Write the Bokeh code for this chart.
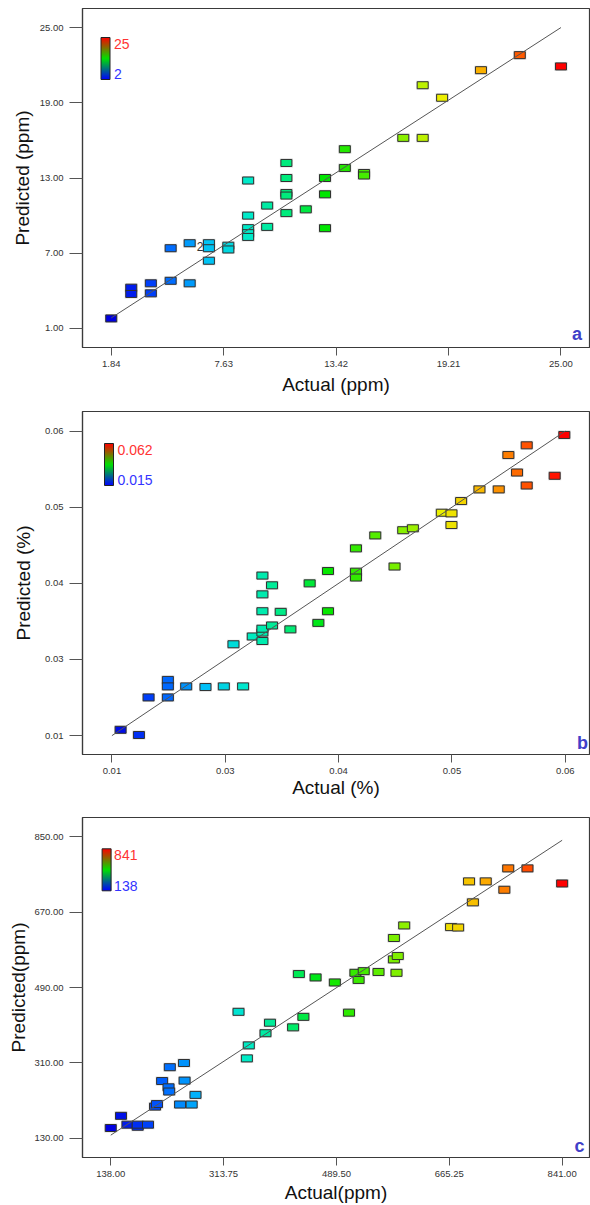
import numpy as np
from bokeh.plotting import figure
from bokeh.layouts import column
from bokeh.models import (LinearColorMapper, ColorBar, FixedTicker, Label,
                          ColumnDataSource, Range1d)
from bokeh.core.properties import value
from bokeh.embed import file_html
from bokeh.resources import INLINE

# ---------------- data: panel a (ppm) ----------------
a_actual = [1.84, 2.87, 2.87, 3.88, 3.88, 4.90, 4.90, 5.88, 5.88, 6.87, 6.87, 6.87,
            7.87, 7.87, 8.89, 8.89, 8.89, 8.89, 8.89, 9.87, 9.87,
            10.86, 10.86, 10.86, 10.86, 10.86, 11.86, 12.85, 12.85, 12.85,
            13.87, 13.87, 14.86, 14.86, 16.88, 17.88, 17.88, 18.88, 20.88, 22.88, 25.00]
a_pred = [1.8, 4.25, 3.75, 4.6, 3.8, 4.8, 7.4, 7.8, 4.6, 7.8, 7.4, 6.4,
          7.6, 7.3, 12.8, 10.0, 9.0, 8.6, 8.3, 10.8, 9.1,
          14.2, 13.0, 11.8, 11.6, 10.2, 10.5, 13.0, 11.7, 9.0,
          15.3, 13.8, 13.4, 13.2, 16.2, 16.2, 20.4, 19.4, 21.6, 22.8, 21.9]
a_ticks = [1.84, 7.63, 13.42, 19.21, 25.00]
a_tick_labels = ["1.84", "7.63", "13.42", "19.21", "25.00"]
a_yticks = [1.0, 7.0, 13.0, 19.0, 25.0]
a_ytick_labels = ["1.00", "7.00", "13.00", "19.00", "25.00"]
a_color_range = [2, 25]
a_color_labels = ["2", "25"]
a_note_x = [6.42]
a_note_y = [7.55]
a_note_text = ["2"]

# ---------------- data: panel b (%) ----------------
b_actual = [0.0159, 0.0178, 0.0188, 0.0208, 0.0208, 0.0208, 0.0227, 0.0247, 0.0266, 0.0286,
            0.0276, 0.0296, 0.0306, 0.0306, 0.0306, 0.0306, 0.0306, 0.0306,
            0.0316, 0.0316, 0.0325, 0.0335, 0.0355, 0.0364, 0.0374, 0.0374,
            0.0403, 0.0403, 0.0403, 0.0423, 0.0443, 0.0452, 0.0462, 0.0492,
            0.0502, 0.0502, 0.0512, 0.0531, 0.0551, 0.0561, 0.0570, 0.0580, 0.0580,
            0.0609, 0.0619]
b_pred = [0.0159, 0.0151, 0.0209, 0.0236, 0.0226, 0.0209, 0.0226, 0.0225, 0.0226, 0.0226,
          0.0291, 0.0303, 0.0296, 0.0309, 0.0315, 0.0342, 0.0368, 0.0397,
          0.0320, 0.0382, 0.0341, 0.0314, 0.0385, 0.0324, 0.0404, 0.0342,
          0.0439, 0.0403, 0.0394, 0.0459, 0.0411, 0.0467, 0.0470, 0.0494,
          0.0493, 0.0475, 0.0512, 0.0530, 0.0530, 0.0583, 0.0556, 0.0598, 0.0536,
          0.0551, 0.0614]
b_ticks = [0.015, 0.02675, 0.0385, 0.05025, 0.062]
b_tick_labels = ["0.01", "0.03", "0.04", "0.05", "0.06"]
b_color_range = [0.015, 0.062]
b_color_labels = ["0.015", "0.062"]

# ---------------- data: panel c (ppm) ----------------
c_actual = [138, 154, 164, 180, 180, 196, 207, 210, 218, 228, 229, 230, 246, 252, 253, 264, 270,
            337, 350, 353, 379, 386, 422, 431, 438, 457, 487, 509, 519, 524, 532, 555, 583,
            579, 585, 579, 595, 668, 679, 702, 696, 722, 751, 757, 787, 841]
c_pred = [155, 184, 163, 158, 163, 163, 206, 212, 267, 252, 242, 300, 211, 310, 268, 211, 234,
          432, 321, 352, 381, 406, 395, 522, 420, 514, 502, 430, 525, 508, 529, 527, 525,
          557, 565, 608, 638, 634, 633, 693, 743, 743, 723, 774, 774, 738]
c_ticks = [138.0, 313.75, 489.5, 665.25, 841.0]
c_tick_labels = ["138.00", "313.75", "489.50", "665.25", "841.00"]
c_yticks = [130.0, 310.0, 490.0, 670.0, 850.0]
c_ytick_labels = ["130.00", "310.00", "490.00", "670.00", "850.00"]
c_color_range = [138, 841]
c_color_labels = ["138", "841"]

# ---------------- styling helpers ----------------
POINT_STOPS = [(0.0, (0, 0, 225)), (0.1, (0, 80, 255)), (0.2, (0, 190, 250)),
               (0.3, (0, 235, 200)), (0.4, (0, 235, 110)), (0.47, (0, 230, 0)),
               (0.55, (60, 235, 0)), (0.65, (140, 240, 0)), (0.73, (235, 240, 0)),
               (0.82, (250, 180, 0)), (0.91, (255, 90, 0)), (1.0, (255, 0, 0))]
BAR_STOPS = [(0.0, (0, 0, 255)), (0.5, (0, 225, 0)), (1.0, (255, 0, 0))]


def make_palette(stops, n=256):
    ts = np.array([s[0] for s in stops])
    cols = np.array([s[1] for s in stops], dtype=float)
    out = []
    for t in np.linspace(0, 1, n):
        r = np.interp(t, ts, cols[:, 0])
        g = np.interp(t, ts, cols[:, 1])
        b = np.interp(t, ts, cols[:, 2])
        out.append("#%02x%02x%02x" % (int(round(r)), int(round(g)), int(round(b))))
    return out


POINT_PAL = make_palette(POINT_STOPS)
BAR_PAL = make_palette(BAR_STOPS)
FONT = "Liberation Sans"


def panel(actual, pred, xticks, xlabels, yticks, ylabels, xr, yr, crange, clabels,
          xlab, ylab, letter, height, top, bottom, left, xstand, ystand,
          cb_pos, lab_pos, letter_pos, note=None):
    p = figure(width=590, height=height, output_backend="svg", toolbar_location=None,
               x_range=Range1d(*xr), y_range=Range1d(*yr),
               min_border_left=left, min_border_right=1, min_border_top=top,
               min_border_bottom=bottom)
    p.xgrid.visible = False
    p.ygrid.visible = False
    p.outline_line_color = "#3a3a3a"
    p.outline_line_width = 1.2
    p.background_fill_color = "white"
    p.border_fill_color = "white"

    p.xaxis.ticker = FixedTicker(ticks=xticks)
    p.xaxis.major_label_overrides = {t: l for t, l in zip(xticks, xlabels)}
    p.yaxis.ticker = FixedTicker(ticks=yticks)
    p.yaxis.major_label_overrides = {t: l for t, l in zip(yticks, ylabels)}
    for ax in (p.xaxis[0], p.yaxis[0]):
        ax.axis_line_color = "#3a3a3a"
        ax.axis_line_width = 1.2
        ax.major_tick_line_color = "#555555"
        ax.major_tick_in = 0
        ax.minor_tick_line_color = None
        ax.major_label_text_font = FONT
        ax.major_label_text_font_size = "9.5px"
        ax.major_label_text_color = "#333333"
        ax.axis_label_text_font = FONT
        ax.axis_label_text_font_size = "19px"
        ax.axis_label_text_font_style = "normal"
        ax.axis_label_text_color = "#111111"
    p.xaxis.major_tick_out = 8
    p.yaxis.major_tick_out = 13
    p.xaxis.major_label_standoff = 5
    p.yaxis.major_label_standoff = 6
    p.xaxis.axis_label = xlab
    p.yaxis.axis_label = ylab
    p.xaxis.axis_label_standoff = xstand
    p.yaxis.axis_label_standoff = ystand

    mapper = LinearColorMapper(palette=POINT_PAL, low=crange[0], high=crange[1])
    src = ColumnDataSource(dict(x=actual, y=pred))
    p.rect(x="x", y="y", width=13, height=9, width_units="screen", height_units="screen",
           source=src, fill_color="#bdbdbd", fill_alpha=0.55, line_color=None)
    p.rect(x="x", y="y", width=11, height=7, width_units="screen", height_units="screen",
           source=src, fill_color={"field": "x", "transform": mapper},
           line_color="#303030", line_width=1)
    p.line(x=[xticks[0], xticks[-1]], y=[xticks[0], xticks[-1]],
           line_color="#555555", line_width=1)

    if note is not None:
        p.text(x=note[0], y=note[1], text=note[2], text_font=value(FONT),
               text_font_size="12px", text_color="#333333",
               text_align="center", text_baseline="middle")

    bar_mapper = LinearColorMapper(palette=BAR_PAL, low=crange[0], high=crange[1])
    cb = ColorBar(color_mapper=bar_mapper, location=cb_pos, width=9, height=42,
                  padding=0, margin=0, ticker=FixedTicker(ticks=[]),
                  major_label_text_font_size="0px", major_tick_line_color=None,
                  minor_tick_line_color=None, bar_line_color="#222222",
                  border_line_color=None, background_fill_color=None)
    p.add_layout(cb)
    p.add_layout(Label(x=lab_pos[0], y=lab_pos[1], x_units="screen", y_units="screen",
                       text=clabels[1], text_font=FONT, text_font_size="14px",
                       text_color="#ff3333", text_baseline="middle"))
    p.add_layout(Label(x=lab_pos[0], y=lab_pos[2], x_units="screen", y_units="screen",
                       text=clabels[0], text_font=FONT, text_font_size="14px",
                       text_color="#3333ff", text_baseline="middle"))
    p.add_layout(Label(x=letter_pos[0], y=letter_pos[1], x_units="screen", y_units="screen",
                       text=letter, text_font=FONT, text_font_size="18px",
                       text_font_style="bold", text_color="#4040c8",
                       text_align="center", text_baseline="middle"))
    return p


pa = panel(a_actual, a_pred, a_ticks, a_tick_labels, a_yticks, a_ytick_labels,
           (0.36, 26.47), (-0.52, 26.52), a_color_range, a_color_labels,
           "Actual (ppm)", "Predicted (ppm)", "a", 400, 8, 53, 82, 4, 4,
           (18.5, 268), (31.5, 303.7, 273.7), (494.5, 14),
           note=(a_note_x, a_note_y, a_note_text))
pb = panel(b_actual, b_pred, b_ticks, b_tick_labels, b_ticks, b_tick_labels,
           (0.01195, 0.06451), (0.01209, 0.06502), b_color_range, b_color_labels,
           "Actual (%)", "Predicted (%)", "b", 400, 11, 44, 77, 0, 8,
           (22, 269), (35, 305, 274.3), (500, 12))
pc = panel(c_actual, c_pred, c_ticks, c_tick_labels, c_yticks, c_ytick_labels,
           (94.0, 883.6), (84.7, 895.3), c_color_range, c_color_labels,
           "Actual(ppm)", "Predicted(ppm)", "c", 405, 17, 48, 81, 2, 2,
           (19.6, 266.7), (31.6, 302.7, 271.7), (497, 12))

layout = column(pa, pb, pc, spacing=0)
open("out.html", "w").write(file_html(layout, INLINE))
